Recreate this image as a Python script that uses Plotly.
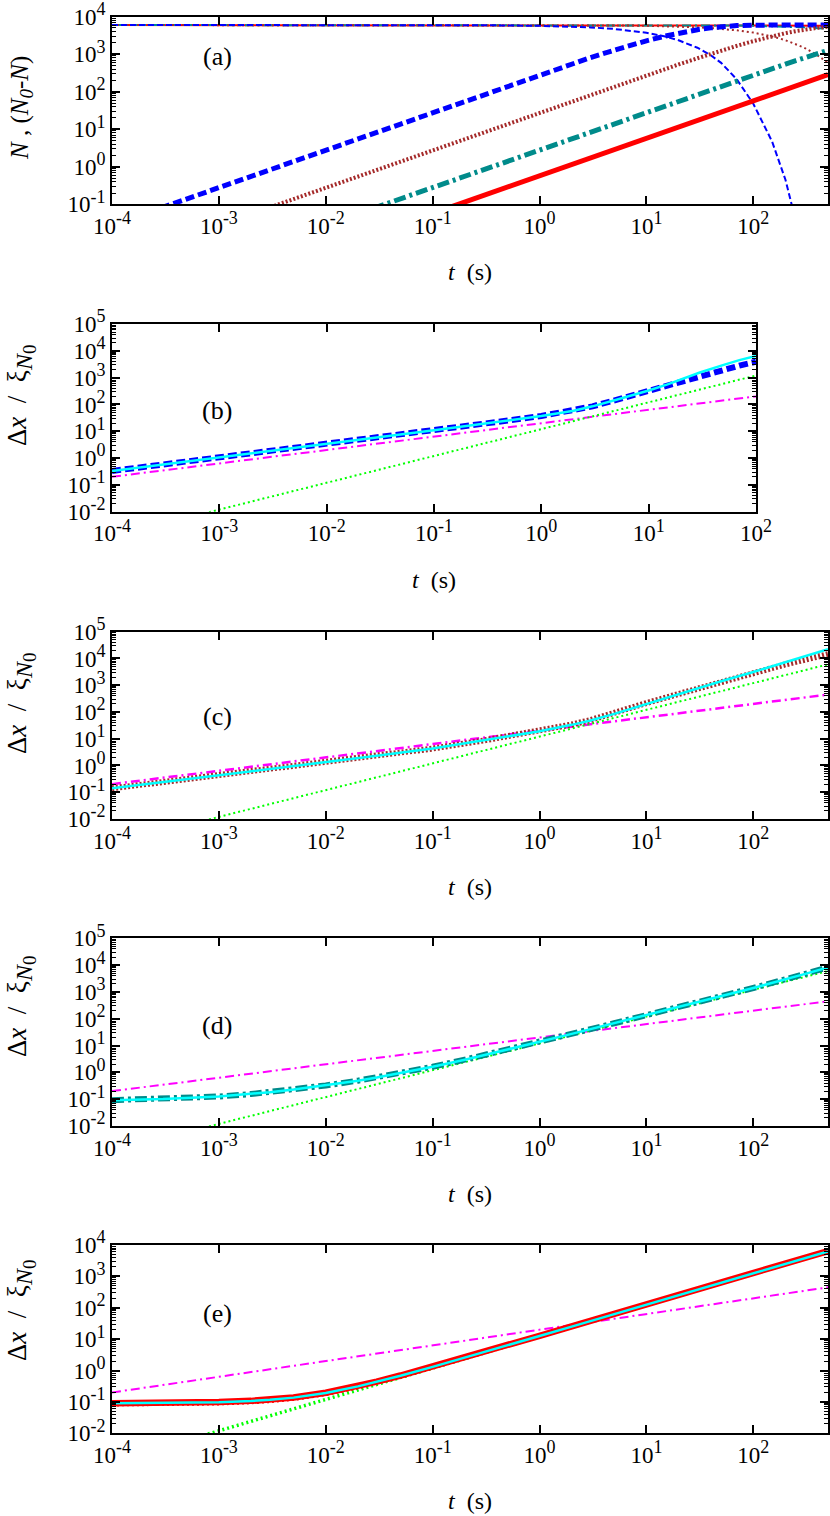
import plotly.graph_objects as go

# ---------------- data ----------------
T_A = [1e-4, 3e-4, 1e-3, 3e-3, 1e-2, 3e-2, 0.1, 0.3, 1, 2, 3, 5, 7, 10, 15, 20, 30, 40, 50, 70,
       100, 150, 200, 250, 300, 400, 500]
BLUE_N = [6000, 6000, 6000, 6000, 6000, 6000, 5972, 5917, 5720, 5450, 5190, 4720, 4290, 3720, 2960,
          2350, 1490, 940, 590, 215, 48, 4.7, 0.45, 0.045, 0.0045, 4e-5, 4e-7]
BLUE_DN = [0.028, 0.084, 0.28, 0.84, 2.8, 8.4, 28, 83, 280, 550, 810, 1280, 1710, 2280, 3040, 3650,
           4510, 5060, 5410, 5785, 5952, 5995, 6000, 6000, 6000, 6000, 6000]
BROWN_N = [6000, 6000, 6000, 6000, 6000, 6000, 6000, 5992, 5972, 5944, 5917, 5862, 5806, 5727, 5596,
           5467, 5220, 4980, 4760, 4333, 3770, 2987, 2366, 1875, 1488, 934, 586]
BROWN_DN = [0.0028, 0.0084, 0.028, 0.084, 0.28, 0.84, 2.79, 8.37, 27.8, 55.6, 83, 138, 193, 273, 404,
            533, 780, 1020, 1240, 1667, 2230, 3013, 3634, 4125, 4512, 5066, 5414]
TEAL_N = [6000, 6000, 6000, 6000, 6000, 6000, 6000, 6000, 5997, 5994, 5991, 5986, 5980, 5971, 5957,
          5943, 5915, 5886, 5858, 5802, 5721, 5585, 5455, 5325, 5202, 4960, 4730]
TEAL_DN = [0.000286, 0.00086, 0.00286, 0.0086, 0.0286, 0.086, 0.286, 0.86, 2.86, 5.7, 8.6, 14.3, 20,
           28.6, 43, 57, 85, 114, 142, 198, 279, 415, 545, 675, 798, 1040, 1270]
RED_N = [6000, 6000, 6000, 6000, 6000, 6000, 6000, 6000, 6000, 5999, 5998, 5997, 5996, 5994, 5991,
         5988, 5983, 5977, 5971, 5959, 5942, 5913, 5885, 5856, 5828, 5772, 5715]
RED_DN = [5.8e-5, 1.74e-4, 5.8e-4, 0.00174, 0.0058, 0.0174, 0.058, 0.174, 0.58, 1.16, 1.74, 2.9,
          4.06, 5.8, 8.7, 11.6, 17.4, 23.2, 29, 40.6, 58, 87, 115, 144, 172, 228, 285]

T_B = [1e-4, 3e-4, 1e-3, 3e-3, 1e-2, 3e-2, 0.1, 0.3, 1, 2, 3, 5, 7, 10, 15, 20, 30, 50, 70, 100]
CYAN_B = [0.33, 0.57, 1.04, 1.8, 3.3, 5.8, 10.8, 19.5, 37, 58, 85, 150, 220, 330, 560, 850, 1550,
          3000, 4500, 6400]
BLUE_B = [0.33, 0.57, 1.04, 1.8, 3.3, 5.8, 10.8, 19.5, 37, 58, 85, 148, 215, 320, 520, 760, 1200,
          2000, 2800, 3900]

T_C = [1e-4, 3e-4, 1e-3, 3e-3, 1e-2, 3e-2, 0.1, 0.3, 1, 2, 3, 5, 10, 20, 30, 50, 100, 200, 300, 500]
CYAN_C = [0.14, 0.24, 0.43, 0.74, 1.3, 2.3, 4.3, 8.5, 19, 33, 48, 85, 200, 460, 750, 1400, 3100,
          7200, 11500, 22000]
BROWN_C = [0.14, 0.24, 0.43, 0.74, 1.3, 2.3, 4.3, 8.6, 19.5, 34, 50, 88, 215, 470, 760, 1350, 2800,
           6000, 8900, 14500]

T_DE = [1e-4, 3e-4, 1e-3, 2e-3, 3e-3, 5e-3, 1e-2, 2e-2, 3e-2, 5e-2, 0.1, 0.2, 0.3, 0.5, 1, 2, 3, 5,
        10, 30, 100, 300, 500]
CYAN_D = [0.092, 0.101, 0.126, 0.156, 0.183, 0.229, 0.325, 0.49, 0.642, 0.929, 1.62, 2.98, 4.34,
          7.04, 13.8, 27.3, 40.8, 67.8, 135, 405, 1400, 4600, 8200]
TEAL_D = [0.092, 0.101, 0.126, 0.156, 0.183, 0.229, 0.325, 0.49, 0.642, 0.929, 1.62, 2.98, 4.34,
          7.04, 13.8, 27.3, 40.8, 67.8, 135, 405, 1400, 4600, 8200]
CYAN_E = [0.0908, 0.0923, 0.098, 0.107, 0.1165, 0.137, 0.193, 0.313, 0.435, 0.683, 1.31, 2.55, 3.80,
          6.30, 12.55, 25.05, 37.55, 62.5, 125, 375, 1250, 3750, 6250]
RED_E = [0.0915, 0.093, 0.099, 0.108, 0.118, 0.139, 0.196, 0.318, 0.442, 0.694, 1.33, 2.6, 3.87,
         6.42, 12.8, 25.6, 38.4, 64, 128, 384, 1280, 3850, 6420]
REDDOT_E = [0.08, 0.081, 0.086, 0.094, 0.102, 0.12, 0.17, 0.28, 0.39, 0.62, 1.2, 2.4, 3.6, 6.0, 12,
            24, 36, 60, 120, 360, 1200, 3600, 6000]

LIM_T_B = [1e-4, 100]
LIM_T_C = [1e-4, 500]
MAG_B = [0.2, 200]
MAG_C = [0.2, 447]
GRN_B = [0.0012, 1200]
GRN_C = [0.0012, 6000]

PANEL_LABELS = ["(a)", "(b)", "(c)", "(d)", "(e)"]

# ---------------- style ----------------
FONT = "Liberation Serif"
FS = 23
W, H = 830, 1516
BLUE = "#0000ff"
BROWN = "#a52a2a"
TEAL = "#008b8b"
RED = "#ff0000"
CYAN = "#00ffff"
MAGENTA = "#ff00ff"
GREEN = "#00ff00"

DASH_THICK = "9px,4px"
DASH_THIN = "6px,3px"
DOT_THICK = "2px,2px"
DOT_THIN = "2px,3px"
DASHDOT_THICK = "12px,4px,3px,4px"
DASHDOT_THIN = "9px,4px,2px,4px"

# panel geometry in pixels: (left, right, top, bottom)
GEOM = [
    (112, 828, 16.7, 204.3),
    (112, 756, 324.0, 511.7),
    (112, 828, 631.7, 819.0),
    (112, 828, 938.3, 1126.0),
    (112, 828, 1245.0, 1433.3),
]
XR = [(-4, 2.699), (-4, 2), (-4, 2.699), (-4, 2.699), (-4, 2.699)]
YR = [(-1, 4), (-2, 5), (-2, 5), (-2, 5), (-2, 4)]
YTITLE_Y = [108, 396, 704, 1007, 1311]
YTITLE_FS = [25, 27, 27, 27, 27]
LABEL_Y = [57, 410, 716.7, 1025, 1313.3]

fig = go.Figure()


def add(i, x, y, color, width, dash="solid"):
    sfx = "" if i == 0 else str(i + 1)
    fig.add_trace(go.Scatter(x=x, y=y, mode="lines", xaxis="x" + sfx, yaxis="y" + sfx,
                             line=dict(color=color, width=width, dash=dash),
                             hoverinfo="skip", showlegend=False))


# panel (a)
add(0, T_A, RED_N, RED, 2)
add(0, T_A, TEAL_N, TEAL, 2, DASHDOT_THIN)
add(0, T_A, BROWN_N, BROWN, 2, DOT_THIN)
add(0, T_A, BLUE_N, BLUE, 2, DASH_THIN)
add(0, T_A, BLUE_DN, BLUE, 5, DASH_THICK)
add(0, T_A, BROWN_DN, BROWN, 4, DOT_THICK)
add(0, T_A, TEAL_DN, TEAL, 5, DASHDOT_THICK)
add(0, T_A, RED_DN, RED, 5)

# panel (b)
add(1, LIM_T_B, MAG_B, MAGENTA, 2, DASHDOT_THIN)
add(1, LIM_T_B, GRN_B, GREEN, 2, DOT_THIN)
add(1, T_B, BLUE_B, BLUE, 6, DASH_THICK)
add(1, T_B, CYAN_B, CYAN, 2.5)

# panel (c)
add(2, LIM_T_C, MAG_C, MAGENTA, 2.5, DASHDOT_THIN)
add(2, LIM_T_C, GRN_C, GREEN, 2, DOT_THIN)
add(2, T_C, BROWN_C, BROWN, 6, DOT_THICK)
add(2, T_C, CYAN_C, CYAN, 2.5)

# panel (d)
add(3, LIM_T_C, MAG_C, MAGENTA, 2, DASHDOT_THIN)
add(3, LIM_T_C, GRN_C, GREEN, 2, DOT_THIN)
add(3, T_DE, TEAL_D, TEAL, 6, DASHDOT_THICK)
add(3, T_DE, CYAN_D, CYAN, 2.5)

# panel (e)
add(4, LIM_T_C, MAG_C, MAGENTA, 2, DASHDOT_THIN)
add(4, LIM_T_C, GRN_C, GREEN, 3.5, DOT_THIN)
add(4, T_DE, REDDOT_E, RED, 3, DOT_THIN)
add(4, T_DE, RED_E, RED, 6.5)
add(4, T_DE, CYAN_E, CYAN, 2.5)


def ticks(lo, hi):
    vals = [10.0 ** k for k in range(lo, hi + 1)]
    txt = ["10<sup><span style='font-size:18px'>%d</span></sup>" % k for k in range(lo, hi + 1)]
    minor = [m * 10.0 ** k for k in range(lo, hi) for m in range(2, 10)]
    return vals, txt, minor


YT_A = ("<i>N</i> , (<i>N</i><sub><span style='font-size:19px'><i>0</i></span></sub>"
        "-<i>N</i>)")
YT_X = ("Δ<i>x</i>  /  ξ<sub><span style='font-size:24px'><i>N</i></span>"
        "<sub><span style='font-size:19px'>0</span></sub></sub>")

layout = dict(width=W, height=H, margin=dict(l=0, r=0, t=0, b=0, autoexpand=False),
              paper_bgcolor="white", plot_bgcolor="white", showlegend=False,
              font=dict(family=FONT, size=FS, color="black"))
annotations = []
for i, (l, r, t, b) in enumerate(GEOM):
    sfx = "" if i == 0 else str(i + 1)
    xv, xt, _ = ticks(-4, 2)
    yv, yt, ym = ticks(YR[i][0], YR[i][1])
    layout["xaxis" + sfx] = dict(
        type="log", range=list(XR[i]), domain=[l / W, r / W], anchor="y" + sfx,
        automargin=False, ticklabeloverflow="allow",
        tickmode="array", tickvals=xv, ticktext=xt, ticks="inside", ticklen=8, tickwidth=1.5,
        tickcolor="black", showline=True, linecolor="black", linewidth=2, mirror="ticks",
        showgrid=False, zeroline=False, tickfont=dict(family=FONT, size=FS, color="black"))
    layout["yaxis" + sfx] = dict(
        type="log", range=list(YR[i]), domain=[1 - b / H, 1 - t / H], anchor="x" + sfx,
        automargin=False, ticklabeloverflow="allow",
        tickmode="array", tickvals=yv, ticktext=yt, ticks="inside", ticklen=8, tickwidth=1.5,
        tickcolor="black", showline=True, linecolor="black", linewidth=2, mirror="ticks",
        showgrid=False, zeroline=False, tickfont=dict(family=FONT, size=FS, color="black"),
        minor=dict(tickvals=ym, ticks="inside", ticklen=4, tickwidth=1, tickcolor="black",
                   showgrid=False))
    # x title
    annotations.append(dict(text="<i>t</i>  (s)", x=(l + r) / 2 / W, y=1 - (b + 68) / H,
                            xref="paper", yref="paper", showarrow=False, xanchor="center",
                            yanchor="middle", font=dict(family=FONT, size=24, color="black")))
    # y title
    annotations.append(dict(text=YT_A if i == 0 else YT_X, x=21 / W, y=1 - YTITLE_Y[i] / H,
                            xref="paper", yref="paper", showarrow=False, textangle=-90,
                            xanchor="center", yanchor="middle",
                            font=dict(family=FONT, size=YTITLE_FS[i], color="black")))
    # panel label
    annotations.append(dict(text=PANEL_LABELS[i], x=217 / W, y=1 - LABEL_Y[i] / H, xref="paper",
                            yref="paper", showarrow=False, xanchor="center", yanchor="middle",
                            font=dict(family=FONT, size=26, color="black")))
layout["annotations"] = annotations
fig.update_layout(**layout)
fig.write_html("out.html", config={"displayModeBar": False},
               post_script="document.body.style.margin='0px';")
